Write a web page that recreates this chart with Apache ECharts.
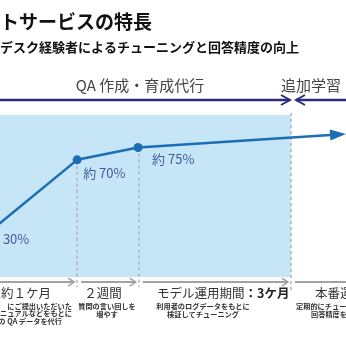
<!DOCTYPE html>
<html><head><meta charset="utf-8">
<script src="https://cdn.jsdelivr.net/npm/echarts/dist/echarts.min.js"></script>
<style>html,body{margin:0;padding:0;background:#fff}#c{width:346px;height:346px}</style>
</head><body><div id="c"></div>
<script>
// ---- data ----
const titleText = 'トサービスの特長';
const subtitleText = 'デスク経験者によるチューニングと回答精度の向上';
const phaseNames = ['QA 作成・育成代行', '追加学習'];
const stageNames = ['約１ケ月', '２週間', 'モデル運用期間', '本番運用'];
const stage3Bold = '：3ケ月';
const stageNotes = [
  ['にご提出いただいた', 'ニュアルなどをもとに', 'の QA データを代行'],
  ['質問の言い回しを', '増やす'],
  ['利用者のログデータをもとに', '検証してチューニング'],
  ['定期的にチュー', '回答精度を']
];
const timeline = [-3.5, 22.3, 39.9, 97.7];        // schematic position along the schedule
const accuracy = [30, 68.5, 75, 81.8];            // answer accuracy (%)
const accuracyLabels = ['30%', '約 70%', '約 75%', ''];
const stageBounds = [22.3, 40.1, 84.1];           // ends of stages

const FONT = '"Noto Sans CJK JP", "Noto Sans", sans-serif';
const chart = echarts.init(document.getElementById('c'), null, {renderer: 'canvas'});

const labelOffsets = [[5.5, 6], [-3.5, 13], [4.5, 12]];
const seriesData = timeline.map((x, i) => {
  const item = {value: [x, accuracy[i]]};
  if (i === timeline.length - 1) {
    item.symbol = 'triangle';
    item.symbolSize = [11, 16];
    item.symbolRotate = -86.4;
    item.label = {show: false};
  } else {
    item.label = {offset: labelOffsets[i]};
  }
  return item;
});

const trainEnd = stageBounds[2];
chart.setOption({
  animation: false,
  grid: {left: 0, right: 0, top: 100, bottom: 56, containLabel: false},
  xAxis: {type: 'value', min: 0, max: 100, show: false},
  yAxis: {type: 'value', min: 0, max: 100, show: false},
  series: [{
    type: 'line',
    clip: false,
    data: seriesData,
    symbol: 'circle',
    symbolSize: 9,
    lineStyle: {color: '#1d6db5', width: 2.5},
    itemStyle: {color: '#1d6db5'},
    z: 5,
    label: {
      show: true, position: 'right',
      formatter: p => accuracyLabels[p.dataIndex],
      color: '#3f5d99', fontSize: 13, fontFamily: FONT
    },
    markArea: {
      silent: true,
      itemStyle: {color: '#c6e6f7'},
      data: [[{coord: [0, 92.1]}, {coord: [trainEnd, 6.8]}]]
    },
    markLine: {
      silent: true,
      symbol: ['none', 'none'],
      label: {show: false},
      lineStyle: {type: [3, 3], color: '#a9b5bd', width: 1.5},
      data: [
        [{coord: [stageBounds[0], accuracy[1]]}, {coord: [stageBounds[0], 1.6]}],
        [{coord: [stageBounds[1], accuracy[2]]}, {coord: [stageBounds[1], 1.6]}],
        [{coord: [stageBounds[2], 93.2]}, {coord: [stageBounds[2], 0]}]
      ]
    }
  }]
});

// ---- decorations positioned from the axes ----
const px = v => chart.convertToPixel({gridIndex: 0}, [v, 0])[0];
const py = v => chart.convertToPixel({gridIndex: 0}, [0, v])[1];
const yTop = py(100), yBot = py(4.2);
const navy = '#2a2d7c', gray = '#a2a2a2';
const g = [];
const line = (x1, y1, x2, y2, c, w) => g.push({type: 'line', shape: {x1, y1, x2, y2}, style: {stroke: c, lineWidth: w}, z: 10});
const chev = (tip, y, dir, c, w, len, half) => g.push({type: 'polyline', shape: {points: [[tip - dir * len, y - half], [tip, y], [tip - dir * len, y + half]]}, style: {stroke: c, lineWidth: w, fill: null}, z: 10});
const text = (t, x, y, font, fill, align) => g.push({type: 'text', x, y, style: {text: t, font, fill, textAlign: align || 'left', textVerticalAlign: 'middle'}, z: 10});

// top phase arrows
const b3 = px(stageBounds[2]);
line(0, yTop, b3 - 1, yTop, navy, 2.5); chev(b3 - 1, yTop, 1, navy, 2, 9, 5);
line(b3 + 5, yTop, 346, yTop, navy, 2.5); chev(b3 + 5, yTop, -1, navy, 2, 9, 5);
text(phaseNames[0], 140, 85, '15px ' + FONT, '#444', 'center');
text(phaseNames[1], 311, 85, '15px ' + FONT, '#444', 'center');

// bottom stage arrows
let start = 0;
stageBounds.forEach(b => {
  const bx = px(b);
  line(start, yBot, bx - 3, yBot, gray, 2); chev(bx - 3, yBot, 1, gray, 1.5, 6, 4);
  start = bx + 4;
});
line(start, yBot, 346, yBot, gray, 2);

// title
text(titleText, 0, 22, 'bold 19px ' + FONT, '#111', 'left');
text(subtitleText, 0, 47, 'bold 13px ' + FONT, '#111', 'left');

// stage labels
const SF = '12.5px ' + FONT;
text(stageNames[0], 51, 293, SF, '#333', 'right');
text(stageNames[1], 103, 293, SF, '#333', 'center');
g.push({type: 'text', x: 157, y: 293, z: 10, style: {text: '{a|' + stageNames[2] + '}{b|' + stage3Bold + '}', textVerticalAlign: 'middle',
  rich: {a: {font: SF, fill: '#333'}, b: {font: 'bold ' + SF, fill: '#222'}}}});
text(stageNames[3], 315, 293, SF, '#333', 'left');

// notes
const NF = 'bold 7.2px ' + FONT;
stageNotes[0].forEach((t, i) => text(t, [72, 72, 62][i], 306 + i * 7.6, NF, '#333', 'right'));
stageNotes[1].forEach((t, i) => text(t, 107, 306 + i * 7.8, NF, '#333', 'center'));
stageNotes[2].forEach((t, i) => text(t, 203, 306 + i * 8, NF, '#333', 'center'));
stageNotes[3].forEach((t, i) => text(t, [296, 311][i], 306 + i * 8, NF, '#333', 'left'));

chart.setOption({graphic: g});
</script></body></html>
